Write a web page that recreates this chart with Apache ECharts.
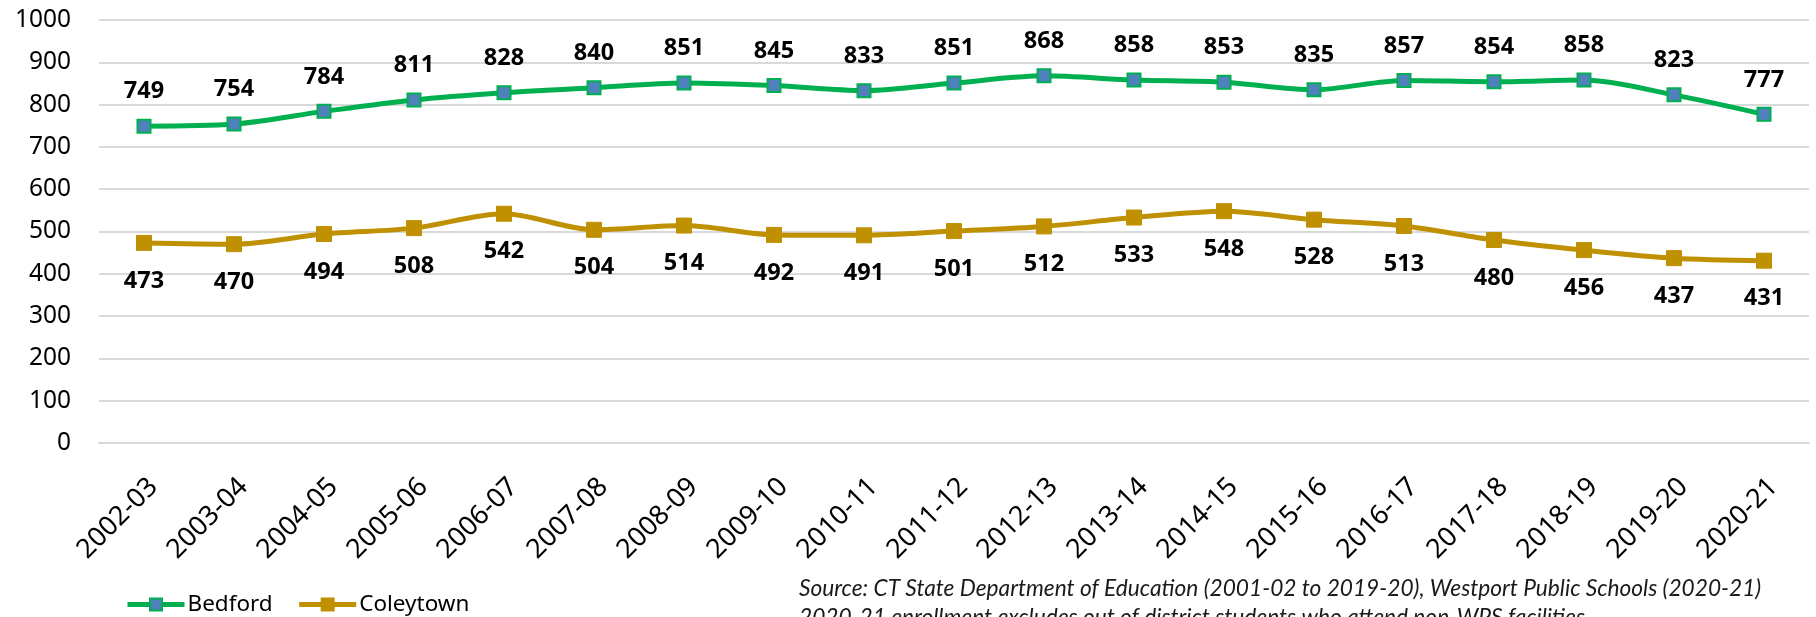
<!DOCTYPE html>
<html>
<head>
<meta charset="utf-8">
<script src="https://cdn.jsdelivr.net/npm/echarts@6/dist/echarts.min.js"></script>
<style>
html,body{margin:0;padding:0;background:#fff;}
#chart{width:1816px;height:617px;}
</style>
</head>
<body>
<div id="chart"></div>
<script>
const categories = ["2002-03","2003-04","2004-05","2005-06","2006-07","2007-08","2008-09","2009-10","2010-11","2011-12","2012-13","2013-14","2014-15","2015-16","2016-17","2017-18","2018-19","2019-20","2020-21"];
const bedford = [749,754,784,811,828,840,851,845,833,851,868,858,853,835,857,854,858,823,777];
const coleytown = [473,470,494,508,542,504,514,492,491,501,512,533,548,528,513,480,456,437,431];
const yTicks = {min:0, max:1000, interval:100};
const sourceLine1 = "Source: CT State Department of Education (2001-02 to 2019-20), Westport Public Schools (2020-21)";
const sourceLine2 = "2020-21 enrollment excludes out of district students who attend non-WPS facilities";

const chart = echarts.init(document.getElementById('chart'), null, {renderer:'canvas'});
const FONT = '"Noto Sans", "Open Sans", sans-serif';
chart.setOption({
  animation:false,
  backgroundColor:'#fff',
  grid:{left:99, right:7, top:20, bottom:174, containLabel:false},
  xAxis:{
    type:'category',
    data:categories,
    boundaryGap:true,
    axisLine:{show:true, lineStyle:{color:'#D9D9D9', width:2}},
    axisTick:{show:false},
    axisLabel:{rotate:45, color:'#000', fontSize:27, fontFamily:FONT, margin:30, interval:0, verticalAlign:'top'}
  },
  yAxis:{
    type:'value',
    min:yTicks.min, max:yTicks.max, interval:yTicks.interval,
    axisLine:{show:false},
    axisTick:{show:false},
    splitLine:{lineStyle:{color:'#D9D9D9', width:2}},
    axisLabel:{color:'#000', fontSize:24.5, fontFamily:FONT, margin:28, formatter:function(v){return String(v);}}
  },
  legend:{
    left:125, top:593, padding:0,
    itemWidth:57, itemHeight:15, itemGap:24,
    textStyle:{color:'#000', fontSize:22.5, fontFamily:FONT, padding:[0,0,0,-2]},
    data:[
      {name:'Bedford', lineStyle:{width:5}},
      {name:'Coleytown', lineStyle:{width:5}}
    ]
  },
  series:[
    {
      name:'Bedford', type:'line', data:bedford, smooth:0.3,
      symbol:'rect', symbolSize:13,
      lineStyle:{color:'#00B050', width:5},
      itemStyle:{color:'#4F81BD', borderColor:'#00B050', borderWidth:2},
      label:{show:true, position:'top', distance:15, color:'#000', fontSize:23.5, fontWeight:'bold', fontFamily:FONT}
    },
    {
      name:'Coleytown', type:'line', data:coleytown, smooth:0.3,
      symbol:'rect', symbolSize:15,
      lineStyle:{color:'#BF9000', width:5},
      itemStyle:{color:'#BF9000', borderColor:'#BF9000', borderWidth:1},
      label:{show:true, position:'bottom', distance:18, color:'#000', fontSize:23.5, fontWeight:'bold', fontFamily:FONT}
    }
  ],
  graphic:[
    {type:'text', left:799, top:577, style:{text:sourceLine1, font:'italic 22.7px Lato, "Liberation Sans", sans-serif', fill:'#1a1a1a'}},
    {type:'text', left:799, top:606, style:{text:sourceLine2, font:'italic 22.7px Lato, "Liberation Sans", sans-serif', fill:'#1a1a1a'}}
  ]
});
</script>
</body>
</html>
